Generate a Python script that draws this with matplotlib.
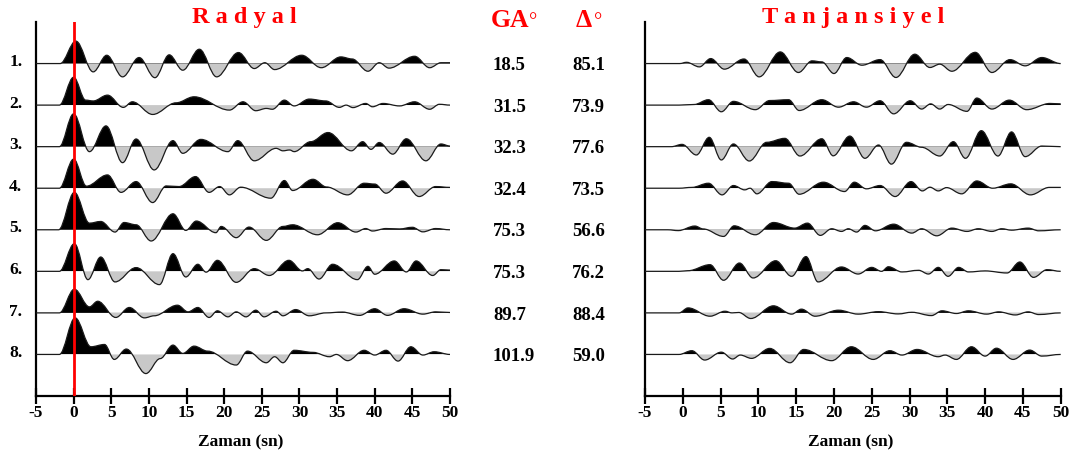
import matplotlib
matplotlib.use('Agg')
import matplotlib.pyplot as plt
from matplotlib.path import Path
from matplotlib.patches import PathPatch, Rectangle
from matplotlib.transforms import blended_transform_factory

plt.rcParams['font.family'] = ['Liberation Serif', 'DejaVu Serif']
plt.rcParams['font.weight'] = 'bold'

# back-azimuth (GA) and distance (delta) for each event
ga = [18.5, 31.5, 32.3, 32.4, 75.3, 75.3, 89.7, 101.9]
delta = [85.1, 73.9, 77.6, 73.5, 56.6, 76.2, 88.4, 59.0]

# radial traces: extrema (time s, amplitude in trace spacing)
rad_t = [
    [-5, -1.8, 0.3, 2.6, 4.4, 6.5, 8.7, 10.8, 12.7, 14.5, 16.7, 19.0, 21.9, 24.0, 25.4, 26.7, 30.3, 32.9, 35.5, 37.0, 39.1, 40.6, 41.9, 45.3, 47.3, 48.8, 50],
    [-5, -1.9, 0.0, 1.6, 2.6, 4.5, 6.6, 7.8, 10.5, 13.6, 16.0, 20.7, 22.5, 24.2, 25.6, 26.4, 28.0, 29.3, 31.3, 33.5, 35.3, 36.2, 37.1, 38.8, 39.7, 41.1, 43.3, 45.3, 47.3, 48.6, 50],
    [-5, -1.9, 0.0, 2.1, 4.3, 6.5, 8.3, 10.7, 13.2, 14.5, 16.9, 20.5, 21.8, 24.0, 26.9, 27.8, 28.7, 29.3, 31.5, 33.8, 36.9, 38.4, 39.5, 40.6, 42.4, 44.2, 46.8, 48.8, 50],
    [-5, -1.9, 0.0, 1.7, 4.5, 6.3, 8.3, 10.5, 12.3, 14.0, 16.2, 18.0, 19.4, 20.7, 22.2, 26.2, 28.0, 29.1, 31.8, 33.6, 36.4, 38.6, 40.0, 41.5, 43.7, 45.9, 48.1, 50],
    [-5, -2.0, 0.1, 2.1, 3.6, 5.5, 6.7, 8.3, 10.3, 13.2, 14.9, 16.3, 18.9, 19.6, 21.6, 23.3, 25.6, 27.8, 29.1, 32.4, 35.1, 37.5, 38.8, 39.7, 41.5, 43.3, 45.0, 46.4, 48.1, 50],
    [-5, -1.9, 0.1, 1.9, 3.6, 5.5, 8.3, 11.4, 13.2, 14.9, 16.5, 17.6, 19.1, 21.6, 24.0, 26.0, 28.6, 30.4, 31.1, 32.6, 34.4, 37.7, 39.1, 40.0, 42.6, 44.2, 45.5, 47.7, 48.8, 50],
    [-5, -1.9, 0.1, 2.1, 3.2, 5.6, 7.4, 9.4, 10.7, 13.8, 15.2, 16.5, 18.0, 19.1, 20.5, 21.6, 22.9, 24.2, 25.3, 26.9, 27.8, 29.5, 31.3, 33.5, 35.7, 38.0, 40.0, 41.7, 43.9, 46.4, 48.1, 50],
    [-5, -1.9, 0.2, 2.3, 4.1, 5.4, 7.0, 9.6, 11.5, 13.2, 14.5, 16.0, 17.8, 21.6, 23.1, 25.6, 26.7, 27.8, 29.3, 31.8, 34.0, 34.9, 36.4, 38.6, 40.0, 41.5, 43.1, 44.8, 46.4, 47.9, 50],
]
rad_a = [
    [0, 0, 0.54, -0.2, 0.2, -0.32, 0.145, -0.34, 0.21, -0.16, 0.345, -0.32, 0.265, -0.12, 0.02, -0.145, 0.2, -0.1, 0.16, 0.11, -0.185, 0.02, -0.11, 0.175, -0.1, 0.02, 0.02],
    [0, 0, 0.67, 0.12, 0.1, 0.24, -0.055, 0.08, -0.225, 0.055, 0.2, -0.12, 0.08, -0.135, -0.08, -0.1, 0.12, -0.02, 0.145, 0.1, -0.055, 0.0, -0.06, 0.04, -0.04, 0.04, -0.02, 0.08, -0.1, 0.02, 0.0],
    [0, 0, 0.79, -0.12, 0.5, -0.385, 0.185, -0.56, 0.145, -0.16, 0.175, -0.12, 0.145, -0.34, -0.04, -0.1, -0.08, -0.12, 0.12, 0.34, -0.1, 0.12, -0.065, 0.1, -0.18, 0.19, -0.34, 0.065, 0.015],
    [0, 0, 0.7, 0.05, 0.32, -0.1, 0.16, -0.345, 0.055, 0.04, 0.28, -0.1, 0.04, -0.16, 0.025, -0.24, 0.185, -0.055, 0.215, 0.03, -0.16, 0.12, 0.1, -0.12, 0.175, -0.2, 0.04, 0.02],
    [0, 0, 0.9, 0.16, 0.2, -0.055, 0.175, 0.12, -0.27, 0.385, -0.015, 0.21, -0.07, 0.08, -0.19, 0.065, -0.255, 0.08, 0.12, -0.12, 0.17, -0.055, 0.03, -0.03, 0.03, 0.02, 0.06, -0.05, 0.03, 0.0],
    [0, 0, 0.665, -0.2, 0.345, -0.255, 0.09, -0.32, 0.425, -0.135, 0.17, -0.02, 0.265, -0.265, 0.065, -0.1, 0.265, 0.01, 0.065, -0.185, 0.17, -0.2, 0.12, -0.07, 0.25, -0.015, 0.25, -0.1, 0.04, 0.03],
    [0, 0, 0.57, 0.145, 0.28, -0.11, 0.13, -0.12, -0.07, 0.185, 0.025, 0.13, -0.11, 0.05, -0.095, 0.025, -0.095, 0.065, -0.095, 0.04, -0.07, 0.08, -0.07, 0.0, 0.02, -0.06, 0.1, -0.06, 0.1, -0.03, 0.025, 0.01],
    [0, 0, 0.88, 0.185, 0.24, -0.12, 0.13, -0.46, -0.1, 0.225, 0.025, 0.2, 0.08, -0.255, 0.08, -0.2, -0.055, -0.2, 0.1, 0.05, -0.055, 0.0, -0.15, 0.1, -0.015, 0.1, -0.16, 0.185, -0.015, 0.065, 0.0],
]

# tangential traces
tan_t = [
    [-5, -0.4, 0.5, 2.2, 3.7, 5.5, 8.1, 10.1, 12.9, 15.3, 17.1, 18.4, 20.0, 21.7, 23.7, 26.1, 28.2, 30.7, 32.7, 34.0, 35.6, 38.7, 40.9, 43.3, 45.3, 47.5, 50],
    [-5, -0.5, 1.5, 3.4, 5.1, 6.7, 9.6, 11.5, 14.0, 15.4, 18.4, 20.6, 22.6, 24.3, 26.1, 27.9, 30.1, 31.6, 32.8, 34.0, 35.1, 37.6, 38.9, 40.9, 43.2, 45.5, 48.6, 50],
    [-5, -1.5, -0.1, 1.8, 3.5, 5.1, 6.7, 8.8, 11.1, 13.5, 15.5, 18.4, 19.9, 22.1, 24.1, 25.9, 27.6, 29.6, 31.6, 34.0, 35.8, 37.4, 39.5, 41.7, 43.5, 45.3, 47.5, 50],
    [-5, -0.5, 1.2, 3.4, 5.2, 6.7, 8.2, 8.9, 9.8, 11.8, 14.0, 15.4, 18.6, 21.4, 22.7, 24.3, 26.1, 28.1, 30.2, 31.7, 32.7, 33.8, 34.9, 36.9, 38.9, 41.0, 43.4, 46.0, 48.5, 50],
    [-5, -2.0, -0.6, 1.6, 2.7, 5.4, 6.8, 9.6, 12.0, 14.8, 16.5, 18.2, 19.7, 21.0, 21.9, 23.0, 24.1, 25.5, 27.9, 30.3, 31.6, 33.6, 35.6, 37.6, 39.1, 40.9, 42.2, 43.5, 45.7, 47.1, 50],
    [-5, -0.5, 0.7, 3.6, 5.4, 7.5, 9.3, 12.3, 14.4, 16.3, 17.9, 21.0, 23.2, 25.0, 26.3, 27.2, 29.0, 31.2, 32.5, 33.8, 35.1, 36.5, 37.8, 40.0, 42.9, 44.6, 46.4, 48.2, 50],
    [-5, -0.5, 0.7, 3.6, 5.6, 6.5, 7.4, 9.0, 12.0, 14.4, 15.7, 17.5, 20.6, 23.2, 25.9, 28.5, 30.3, 32.9, 34.3, 36.2, 37.8, 40.2, 41.8, 44.0, 45.7, 47.1, 50],
    [-5, -0.5, 1.2, 2.9, 5.1, 6.6, 7.6, 9.1, 11.5, 14.2, 16.0, 19.7, 22.3, 25.2, 27.4, 29.0, 31.0, 33.8, 34.7, 36.2, 38.2, 40.0, 41.5, 43.7, 45.9, 47.5, 50],
]
tan_a = [
    [0, 0, 0.03, -0.08, 0.12, -0.135, 0.11, -0.32, 0.28, -0.215, 0.065, 0.04, -0.24, 0.145, -0.04, 0.095, -0.335, 0.225, -0.095, -0.015, -0.185, 0.27, -0.215, 0.095, -0.055, 0.145, 0.0],
    [0, 0, 0.015, 0.13, -0.16, 0.09, -0.11, 0.11, 0.13, -0.13, 0.13, -0.05, 0.08, -0.05, 0.105, -0.21, 0.105, -0.095, 0.03, -0.095, 0.015, -0.15, 0.17, -0.095, 0.12, -0.11, 0.04, 0.03],
    [0, 0, 0.055, -0.2, 0.225, -0.32, 0.065, -0.345, 0.105, 0.2, -0.225, 0.19, -0.22, 0.255, -0.28, 0.04, -0.42, 0.105, -0.015, -0.225, 0.12, -0.28, 0.385, -0.225, 0.355, -0.24, 0.015, 0.0],
    [0, 0, 0.02, 0.12, -0.16, 0.065, -0.04, 0.0, -0.135, 0.16, 0.12, -0.145, 0.145, -0.08, 0.145, -0.015, 0.065, -0.2, 0.16, -0.065, 0.025, -0.065, 0.015, -0.135, 0.175, 0.0, 0.105, -0.16, 0.02, 0.02],
    [0, 0, -0.02, 0.09, 0.02, -0.16, 0.095, -0.12, 0.175, 0.04, 0.16, -0.135, 0.025, -0.04, 0.025, -0.055, 0.105, -0.025, 0.135, -0.08, 0.025, -0.145, 0.04, -0.04, 0.025, -0.04, 0.025, -0.01, 0.04, -0.025, 0.0],
    [0, 0, 0.015, 0.16, -0.215, 0.2, -0.16, 0.255, -0.12, 0.355, -0.255, 0.105, -0.065, 0.095, 0.0, 0.11, -0.015, 0.025, -0.065, 0.095, -0.12, 0.095, -0.015, 0.01, -0.04, 0.225, -0.145, 0.04, 0.0],
    [0, 0, 0.12, -0.08, 0.04, 0.0, 0.01, -0.135, 0.17, -0.03, 0.09, -0.08, 0.065, -0.03, 0.03, -0.025, 0.015, -0.065, 0.05, -0.015, 0.05, -0.03, 0.025, -0.05, 0.025, -0.04, 0.0],
    [0, 0, 0.09, -0.135, 0.055, -0.11, -0.015, -0.095, 0.145, -0.2, 0.12, -0.15, 0.185, -0.12, 0.09, -0.015, 0.12, -0.055, -0.015, -0.12, 0.185, -0.04, 0.15, -0.12, 0.105, -0.04, 0.0],
]

xticks = list(range(-5, 51, 5))
POS = 'black'
NEG = '#c8c8c8'


def trace_path(t, a, y0, k=0.36):
    # smooth bezier through the extrema, flat tangent at every knot
    verts = [(t[0], y0 + a[0])]
    codes = [Path.MOVETO]
    for i in range(1, len(t)):
        dt = t[i] - t[i - 1]
        verts += [(t[i - 1] + k * dt, y0 + a[i - 1]),
                  (t[i] - k * dt, y0 + a[i]),
                  (t[i], y0 + a[i])]
        codes += [Path.CURVE4] * 3
    return verts, codes


def draw_trace(ax, t, a, y0):
    verts, codes = trace_path(t, a, y0)
    closed = Path(verts + [(t[-1], y0), (t[0], y0), (t[0], y0)],
                  codes + [Path.LINETO, Path.LINETO, Path.CLOSEPOLY])
    for color, ybot in ((POS, y0), (NEG, y0 - 2)):
        p = PathPatch(closed, facecolor=color, edgecolor='none', zorder=2)
        ax.add_patch(p)
        p.set_clip_path(Rectangle((-10, ybot), 70, 2, transform=ax.transData))
    ax.add_patch(PathPatch(Path(verts, codes), fill=False, edgecolor='#1a1a1a',
                           lw=0.9, zorder=3))


def setup_axes(ax):
    ax.set_xlim(-5, 50)
    ax.set_ylim(-9, 0)
    ax.spines['top'].set_visible(False)
    ax.spines['right'].set_visible(False)
    ax.spines['left'].set_linewidth(1.6)
    ax.spines['bottom'].set_linewidth(1.6)
    ax.set_yticks([])
    ax.set_xticks(xticks)
    ax.set_xticklabels([str(v) for v in xticks])
    ax.tick_params(axis='x', direction='inout', length=12, width=1.6,
                   labelsize=12.5, pad=0.5)


fig = plt.figure(figsize=(10.76, 4.58), dpi=100)
W, H = 1076, 458
ax_r = fig.add_axes([36 / W, 62 / H, 414 / W, 374 / H])
ax_t = fig.add_axes([645 / W, 62 / H, 415.7 / W, 374 / H])

for ax, tt, aa in ((ax_r, rad_t, rad_a), (ax_t, tan_t, tan_a)):
    setup_axes(ax)
    for k in range(len(tt)):
        draw_trace(ax, tt[k], aa[k], -(k + 1))

ax_r.axvline(0, color='red', lw=2, zorder=4)

for k in range(len(ga)):
    ax_r.text(-7.7, -(k + 1) - 0.065, f'{k + 1}.', ha='center', va='baseline',
              fontsize=12.5, clip_on=False)

tr = blended_transform_factory(fig.transFigure, ax_r.transData)
for k in range(len(ga)):
    fig.text(493 / W, -(k + 1) - 0.16, f'{ga[k]:.1f}', ha='left', va='baseline',
             fontsize=13.5, transform=tr)
    fig.text(572 / W, -(k + 1) - 0.16, f'{delta[k]:.1f}', ha='left', va='baseline',
             fontsize=13.5, transform=tr)

fig.text(244 / W, 1 - 22.7 / H, 'R a d y a l', color='red', ha='center',
         va='baseline', fontsize=17.5)
fig.text(853 / W, 1 - 22.7 / H, 'T a n j a n s i y e l', color='red',
         ha='center', va='baseline', fontsize=17.5)
fig.text(491 / W, 1 - 27.3 / H, 'GA', color='red', ha='left', va='baseline',
         fontsize=18.5)
fig.text(529 / W, 1 - 27.3 / H, '°', color='red', ha='left', va='baseline',
         fontsize=15, fontweight='normal')
fig.text(576 / W, 1 - 26.7 / H, 'Δ', color='red', ha='left', va='baseline',
         fontsize=18.5)
fig.text(594 / W, 1 - 26.7 / H, '°', color='red', ha='left', va='baseline',
         fontsize=15, fontweight='normal')

fig.text(241 / W, 1 - 446.7 / H, 'Zaman (sn)', ha='center', va='baseline',
         fontsize=12.5)
fig.text(851 / W, 1 - 446.7 / H, 'Zaman (sn)', ha='center', va='baseline',
         fontsize=12.5)

fig.savefig('out.png', dpi=100, facecolor='white')
